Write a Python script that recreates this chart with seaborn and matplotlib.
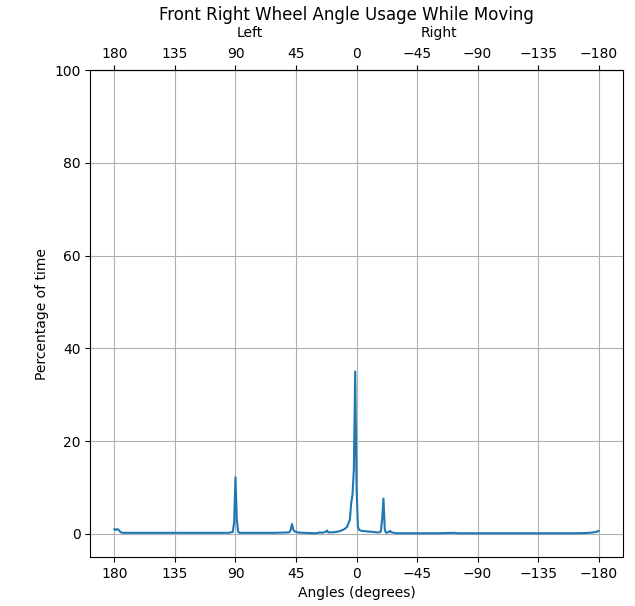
import matplotlib
matplotlib.use('Agg')
from matplotlib import pyplot as plt
import pandas as pd
import seaborn as sns

# wheel angle (degrees) and share of moving time (%)
angles = [180, 179, 178, 177, 176, 175, 174, 150, 120, 95, 92, 91, 90, 89, 88, 87,
          60, 50, 49, 48, 47, 46, 44, 40, 30, 27, 26, 23, 22, 21, 18, 15, 12, 9,
          7, 5, 4, 3, 2, 1, 0, -1, -2, -4, -8, -12, -15, -17, -18, -19, -20, -21,
          -22, -24, -25, -26, -30, -60, -73, -75, -120, -160, -170, -175, -178, -180]
percent = [1.0, 0.8, 1.0, 0.9, 0.5, 0.3, 0.2, 0.2, 0.2, 0.2, 0.4, 2.5, 12.2, 3.0, 0.4, 0.2,
           0.2, 0.3, 0.8, 2.1, 0.9, 0.5, 0.3, 0.2, 0.1, 0.3, 0.2, 0.4, 0.7, 0.3, 0.3, 0.4, 0.6, 1.0,
           1.5, 3.0, 6.5, 8.5, 14.0, 35.0, 10.0, 1.5, 0.8, 0.6, 0.5, 0.4, 0.3, 0.3, 0.5, 3.0, 7.6, 0.8,
           0.2, 0.4, 0.6, 0.3, 0.1, 0.1, 0.2, 0.1, 0.1, 0.1, 0.15, 0.25, 0.4, 0.6]
tick_angles = [180, 135, 90, 45, 0, -45, -90, -135, -180]
y_ticks = [0, 20, 40, 60, 80, 100]

df = pd.DataFrame({'angle': angles, 'percent': percent})

fig = plt.figure(figsize=(6.35, 6.06), dpi=100)
ax = fig.add_axes([0.142, 0.081, 0.839, 0.803])
sns.lineplot(data=df, x='angle', y='percent', ax=ax, color='#1f77b4', linewidth=1.5)
ax.set_xticks(tick_angles)
ax.set_xlim(198, -198)
ax.set_ylim(-5, 100)
ax.set_yticks(y_ticks)
ax.grid(True)
ax.set_xlabel('Angles (degrees)')
ax.set_ylabel('Percentage of time')

# same scale on top, with direction labels
top = ax.secondary_xaxis('top')
top.set_xticks(tick_angles)
fig.text(0.394, 0.946, 'Left', ha='center', va='center', fontsize=10)
fig.text(0.691, 0.946, 'Right', ha='center', va='center', fontsize=10)
fig.text(0.546, 0.975, 'Front Right Wheel Angle Usage While Moving',
         ha='center', va='center', fontsize=12)

fig.savefig('out.png', dpi=100)
